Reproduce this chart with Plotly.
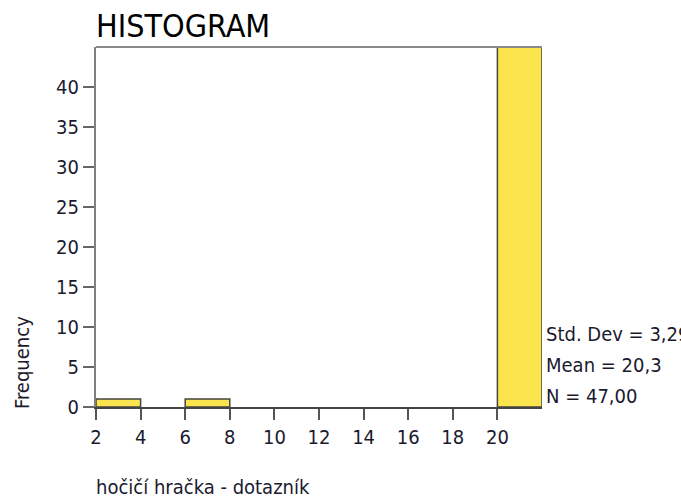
import plotly.graph_objects as go

bin_starts = [2, 4, 6, 8, 10, 12, 14, 16, 18, 20]
counts = [1, 0, 1, 0, 0, 0, 0, 0, 0, 45]
bin_width = 2
x_ticks = [2, 4, 6, 8, 10, 12, 14, 16, 18, 20]
y_ticks = [0, 5, 10, 15, 20, 25, 30, 35, 40]
stats_lines = ["Std. Dev = 3,29", "Mean = 20,3", "N = 47,00"]
title_text = "HISTOGRAM"
x_title = "hočičí hračka - dotazník"
y_title = "Frequency"

FONT = "DejaVu Sans Condensed, DejaVu Sans, sans-serif"
TXT = "#1a1a2e"

centers = [b + bin_width / 2 for b in bin_starts]
nz = [(c, v) for c, v in zip(centers, counts) if v > 0]

fig = go.Figure()
fig.add_trace(go.Bar(
    x=[c for c, _ in nz], y=[v for _, v in nz], width=bin_width,
    marker=dict(color="#FBE44E", line=dict(color="#444444", width=1.5)),
    showlegend=False, hoverinfo="skip",
))

fig.update_layout(
    width=681, height=498,
    margin=dict(l=96, r=139, t=47, b=91),
    paper_bgcolor="white", plot_bgcolor="white",
    font=dict(family=FONT, size=20, color=TXT),
    xaxis=dict(range=[2, 22], tickvals=x_ticks, ticks="outside", ticklen=11,
               tickcolor="#555", tickwidth=2, showgrid=False, zeroline=False,
               showline=True, linecolor="#444", linewidth=2, mirror=False,
               tickfont=dict(size=20, family=FONT, color=TXT)),
    yaxis=dict(range=[0, 45], tickvals=y_ticks, ticks="outside", ticklen=11,
               tickcolor="#666", tickwidth=2, showgrid=False, zeroline=False,
               showline=True, linecolor="#808080", linewidth=2, mirror=False,
               tickfont=dict(size=20, family=FONT, color=TXT)),
    shapes=[dict(type="line", xref="paper", yref="paper", x0=0, x1=1, y0=1, y1=1,
                 line=dict(color="#8a8a8a", width=2))],
)

fig.add_annotation(text=title_text, xref="paper", yref="paper", x=0, y=1,
                   xanchor="left", yanchor="middle", yshift=21, xshift=-2,
                   showarrow=False, font=dict(size=32, family=FONT, color="#000"))
fig.add_annotation(text=x_title, xref="paper", yref="paper", x=0, y=0,
                   xanchor="left", yanchor="middle", yshift=-80, xshift=-2,
                   showarrow=False, font=dict(size=20, family=FONT, color=TXT))
fig.add_annotation(text=y_title, xref="paper", yref="y", x=0, y=0,
                   xanchor="center", yanchor="middle", textangle=-90,
                   xshift=-74, yshift=44,
                   showarrow=False, font=dict(size=20, family=FONT, color=TXT))
for i, line in enumerate(stats_lines):
    fig.add_annotation(text=line, xref="paper", yref="y", x=1, y=0,
                       xanchor="left", yanchor="middle", xshift=2,
                       yshift=73 - 31 * i,
                       showarrow=False, font=dict(size=20, family=FONT, color=TXT))

fig.write_html("out.html", config={"displayModeBar": False},
               post_script="document.body.style.margin='0px';")
